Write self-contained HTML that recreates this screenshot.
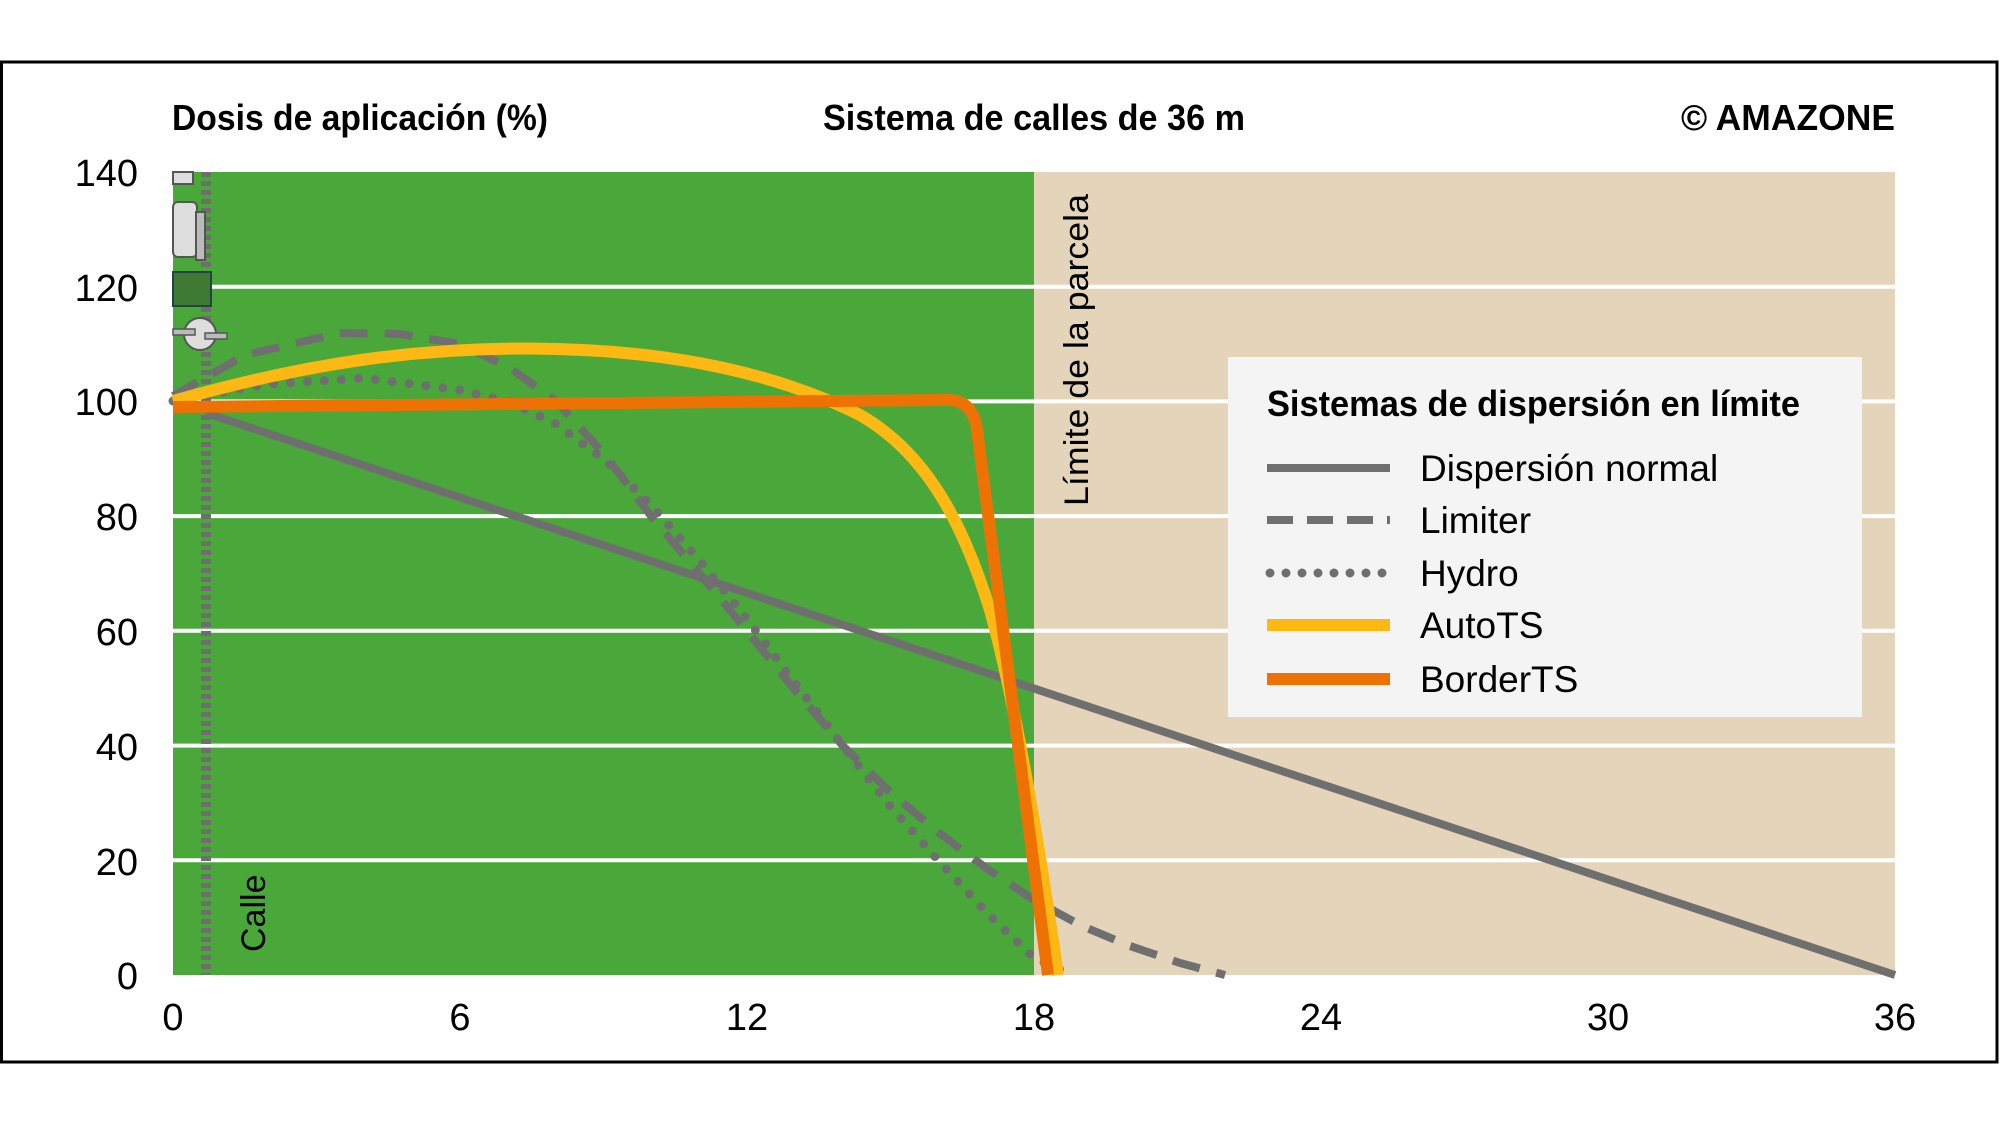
<!DOCTYPE html>
<html><head><meta charset="utf-8"><style>
html,body{margin:0;padding:0;background:#fff;}
svg{display:block;}
text{font-family:"Liberation Sans Narrow","Liberation Sans",sans-serif;}
</style></head><body>
<svg width="2000" height="1125" viewBox="0 0 2000 1125" xmlns="http://www.w3.org/2000/svg">
<rect x="1.5" y="62" width="1995.5" height="1000" fill="#fff" stroke="#000" stroke-width="3"/>
<rect x="173" y="172" width="861" height="803" fill="#4aa83a"/>
<rect x="1034" y="172" width="861" height="803" fill="#e3d4ba"/>
<g stroke="#fff" stroke-width="4">
<line x1="173" y1="286.7" x2="1895" y2="286.7"/>
<line x1="173" y1="401.4" x2="1895" y2="401.4"/>
<line x1="173" y1="516.1" x2="1895" y2="516.1"/>
<line x1="173" y1="630.8" x2="1895" y2="630.8"/>
<line x1="173" y1="745.6" x2="1895" y2="745.6"/>
<line x1="173" y1="860.3" x2="1895" y2="860.3"/>
</g>
<line x1="206" y1="172" x2="206" y2="975" stroke="#6e6e6e" stroke-width="10" stroke-dasharray="5 4"/>
<rect x="173" y="172" width="20" height="12" fill="#ddd" stroke="#555" stroke-width="2"/>
<rect x="173" y="202" width="24" height="55" rx="5" fill="#ddd" stroke="#555" stroke-width="2"/>
<rect x="196" y="212" width="9" height="48" fill="#bbb" stroke="#555" stroke-width="2"/>
<rect x="173" y="272" width="38" height="34" fill="#3f7a35" stroke="#244" stroke-width="2"/>
<circle cx="200" cy="334" r="16" fill="#ddd" stroke="#555" stroke-width="2"/>
<rect x="173" y="329" width="22" height="6" fill="#bbb" stroke="#555" stroke-width="1.5"/>
<rect x="205" y="333" width="22" height="6" fill="#bbb" stroke="#555" stroke-width="1.5"/>
<g fill="none" stroke-linejoin="round">
<polyline points="206,413 1895,975" stroke="#6f6f6f" stroke-width="8"/>
<polyline points="173,396 245,355 340,333 400,334 460,344 510,368 556,401 605,455 651,516 699,573 747,631 795,690 843,746 890,792 938,832 986,868 1034,900 1082,926 1130,946 1180,963 1225,975" stroke="#6f6f6f" stroke-width="8" stroke-dasharray="28 17"/>
<polyline points="173,401 269,384 364,378 460,390 510,402 556,424 605,460 651,505 699,560 747,619 795,683 843,746 890,806 938,860 986,912 1034,958 1072,975" stroke="#6f6f6f" stroke-width="9" stroke-dasharray="0 17" stroke-linecap="round"/>
<path d="M173,401 C300,365 420,345 556,349 C680,352 780,375 860,415 C930,455 965,530 990,610 C1015,700 1040,850 1058,975" stroke="#fdb813" stroke-width="12"/>
<path d="M173,407 L948,400 Q973,400 977,430 L1048,975" stroke="#ee7203" stroke-width="12"/>
</g>
<text x="172" y="130" font-size="36" font-weight="bold" textLength="376" lengthAdjust="spacingAndGlyphs">Dosis de aplicación (%)</text>
<text x="823" y="130" font-size="36" font-weight="bold" textLength="422" lengthAdjust="spacingAndGlyphs">Sistema de calles de 36 m</text>
<text x="1681" y="130" font-size="36" font-weight="bold" textLength="214" lengthAdjust="spacingAndGlyphs">© AMAZONE</text>
<g font-size="38" text-anchor="end">
<text x="138" y="186">140</text><text x="138" y="301">120</text><text x="138" y="415">100</text>
<text x="138" y="530">80</text><text x="138" y="645">60</text><text x="138" y="760">40</text>
<text x="138" y="875">20</text><text x="138" y="989">0</text>
</g>
<g font-size="38" text-anchor="middle">
<text x="173" y="1030">0</text><text x="460" y="1030">6</text><text x="747" y="1030">12</text>
<text x="1034" y="1030">18</text><text x="1321" y="1030">24</text><text x="1608" y="1030">30</text><text x="1895" y="1030">36</text>
</g>
<text transform="translate(1088,506) rotate(-90)" font-size="34" textLength="312" lengthAdjust="spacingAndGlyphs">Límite de la parcela</text>
<text transform="translate(265,952) rotate(-90)" font-size="34">Calle</text>
<rect x="1228" y="357" width="634" height="360" fill="#f4f4f4"/>
<text x="1267" y="416" font-size="36" font-weight="bold" textLength="533" lengthAdjust="spacingAndGlyphs">Sistemas de dispersión en límite</text>
<g stroke-width="8" fill="none">
<line x1="1267" y1="468" x2="1390" y2="468" stroke="#6f6f6f"/>
<line x1="1267" y1="520" x2="1390" y2="520" stroke="#6f6f6f" stroke-dasharray="26 14"/>
<line x1="1270" y1="573" x2="1390" y2="573" stroke="#6f6f6f" stroke-dasharray="0 16" stroke-linecap="round" stroke-width="9"/>
<line x1="1267" y1="625" x2="1390" y2="625" stroke="#fdb813" stroke-width="12"/>
<line x1="1267" y1="679" x2="1390" y2="679" stroke="#ee7203" stroke-width="12"/>
</g>
<g font-size="37">
<text x="1420" y="481">Dispersión normal</text>
<text x="1420" y="533">Limiter</text>
<text x="1420" y="586">Hydro</text>
<text x="1420" y="638">AutoTS</text>
<text x="1420" y="692">BorderTS</text>
</g>
</svg>
</body></html>
